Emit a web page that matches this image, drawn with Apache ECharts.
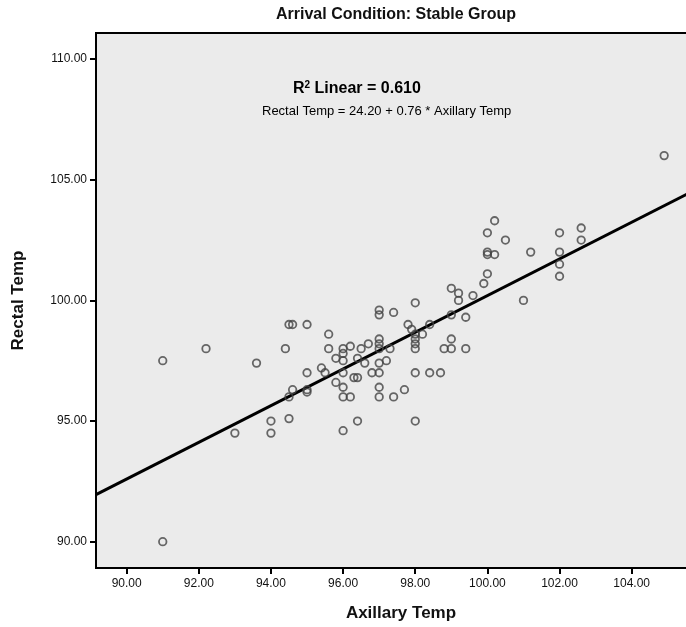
<!DOCTYPE html>
<html>
<head>
<meta charset="utf-8">
<script src="https://cdn.jsdelivr.net/npm/echarts@6/dist/echarts.min.js"></script>
<style>
  html, body { margin: 0; padding: 0; background: #fff; }
  #chart { width: 686px; height: 627px; }
</style>
</head>
<body>
<div id="chart"></div>
<script>
// scatter points
const axillaryTemp = [
  91.0, 91.0, 92.2, 93.0, 93.6, 94.0, 94.0, 94.4, 94.5, 94.6,
  94.5, 94.5, 94.6, 95.0, 95.0, 95.0, 95.0, 95.4, 95.5, 95.6,
  95.6, 95.8, 95.8, 96.0, 96.0, 96.0, 96.0, 96.0, 96.0, 96.0,
  96.2, 96.2, 96.3, 96.4, 96.4, 96.4, 96.5, 96.6, 96.7, 96.8,
  97.0, 97.0, 97.0, 97.0, 97.0, 97.0, 97.0, 97.0, 97.0, 97.2,
  97.3, 97.4, 97.4, 97.7, 97.8, 97.9, 98.0, 98.0, 98.0, 98.0,
  98.0, 98.0, 98.0, 98.2, 98.4, 98.4, 98.7, 98.8, 99.0, 99.0,
  99.0, 99.0, 99.2, 99.2, 99.4, 99.4, 99.6, 99.9, 100.0, 100.0,
  100.0, 100.0, 100.2, 100.2, 100.5, 101.0, 101.2, 102.0, 102.0, 102.0,
  102.0, 102.6, 102.6, 104.9
];
const rectalTemp = [
  90.0, 97.5, 98.0, 94.5, 97.4, 95.0, 94.5, 98.0, 99.0, 99.0,
  95.1, 96.0, 96.3, 99.0, 97.0, 96.2, 96.3, 97.2, 97.0, 98.6,
  98.0, 97.6, 96.6, 98.0, 97.8, 97.5, 97.0, 96.4, 96.0, 94.6,
  98.1, 96.0, 96.8, 96.8, 97.6, 95.0, 98.0, 97.4, 98.2, 97.0,
  99.6, 99.4, 98.4, 98.2, 98.0, 97.4, 97.0, 96.4, 96.0, 97.5,
  98.0, 99.5, 96.0, 96.3, 99.0, 98.8, 99.9, 98.6, 98.4, 98.2,
  98.0, 97.0, 95.0, 98.6, 99.0, 97.0, 97.0, 98.0, 100.5, 99.4,
  98.4, 98.0, 100.3, 100.0, 99.3, 98.0, 100.2, 100.7, 101.1, 102.0,
  101.9, 102.8, 101.9, 103.3, 102.5, 100.0, 102.0, 102.8, 102.0, 101.5,
  101.0, 103.0, 102.5, 106.0
];

const xTicks = [90, 92, 94, 96, 98, 100, 102, 104];
const yTicks = [90, 95, 100, 105, 110];

// fit line from the printed equation
const FIT_INTERCEPT = 24.20;
const FIT_SLOPE = 0.76;
const R2 = "0.610";

const X_MIN = 89.15, X_MAX = 106.06;
const Y_MIN = 88.91, Y_MAX = 111.08;

const SANS = "'Liberation Sans', Arial, sans-serif";

const chart = echarts.init(document.getElementById("chart"));

const points = axillaryTemp.map((x, i) => [x, rectalTemp[i]]);
const fitLine = [X_MIN, X_MAX].map((x) => [x, FIT_INTERCEPT + FIT_SLOPE * x]);

const option = {
  animation: false,
  backgroundColor: "#fff",
  title: {
    text: "Arrival Condition: Stable Group",
    left: 391,
    textAlign: "center",
    top: 2,
    textStyle: { fontFamily: SANS, fontWeight: "bold", fontSize: 16, color: "#111" },
  },
  grid: {
    left: 96,
    top: 33,
    right: -20,
    bottom: 59,
    outerBoundsMode: "none",
    containLabel: false,
    show: true,
    backgroundColor: "#ebebeb",
    borderColor: "#000",
    borderWidth: 2,
  },
  graphic: [
    {
      type: "text",
      left: 293,
      top: 80,
      style: {
        text: "{a|R}{s|2}{a| Linear = " + R2 + "}",
        rich: {
          a: { fontFamily: SANS, fontWeight: "bold", fontSize: 16, fill: "#000" },
          s: { fontFamily: SANS, fontWeight: "bold", fontSize: 10, fill: "#000", verticalAlign: "top", padding: [0, 0, 8, 0] },
        },
      },
    },
    {
      type: "text",
      left: 262,
      top: 105,
      style: {
        text: "Rectal Temp = 24.20 + 0.76 * Axillary Temp",
        fontFamily: SANS,
        fontSize: 13,
        fill: "#000",
      },
    },
  ],
  xAxis: {
    type: "value",
    min: X_MIN,
    max: X_MAX,
    name: "Axillary Temp",
    nameLocation: "middle",
    nameGap: 37,
    nameTextStyle: { fontFamily: SANS, fontWeight: "bold", fontSize: 17, color: "#111" },
    axisLine: { show: true, lineStyle: { color: "#000", width: 2 } },
    axisTick: { show: true, customValues: xTicks, length: 6, lineStyle: { color: "#000", width: 2 } },
    axisLabel: {
      customValues: xTicks,
      formatter: (v) => v.toFixed(2),
      margin: 10,
      fontFamily: SANS,
      fontSize: 12,
      color: "#111",
    },
    splitLine: { show: false },
  },
  yAxis: {
    type: "value",
    min: Y_MIN,
    max: Y_MAX,
    name: "Rectal Temp",
    nameLocation: "middle",
    nameGap: 69,
    nameRotate: 90,
    nameTextStyle: { fontFamily: SANS, fontWeight: "bold", fontSize: 17, color: "#111" },
    axisLine: { show: true, lineStyle: { color: "#000", width: 2 } },
    axisTick: { show: true, customValues: yTicks, length: 6, lineStyle: { color: "#000", width: 2 } },
    axisLabel: {
      customValues: yTicks,
      formatter: (v) => v.toFixed(2),
      margin: 9,
      fontFamily: SANS,
      fontSize: 12,
      color: "#111",
    },
    splitLine: { show: false },
  },
  series: [
    {
      type: "scatter",
      data: points,
      symbol: "circle",
      symbolSize: 7.5,
      itemStyle: { color: "rgba(0,0,0,0)", borderColor: "#444", borderWidth: 1.8 },
      z: 3,
    },
    {
      type: "line",
      data: fitLine,
      showSymbol: false,
      lineStyle: { color: "#000", width: 3 },
      silent: true,
      z: 2,
    },
  ],
};

chart.setOption(option);
</script>
</body>
</html>
